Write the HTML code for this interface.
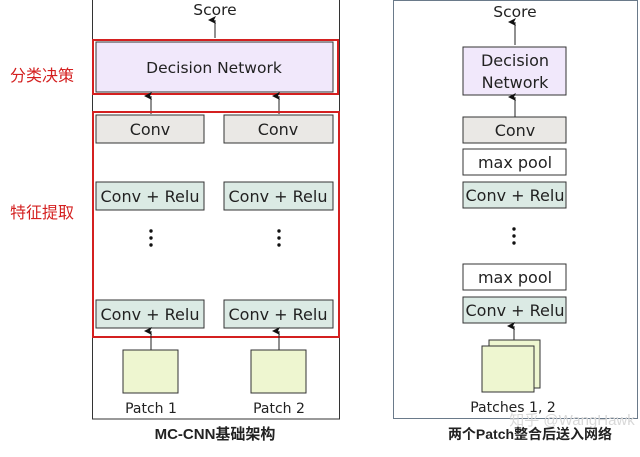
<!DOCTYPE html>
<html><head><meta charset="utf-8"><style>
body{margin:0;background:#fff;width:640px;height:452px;overflow:hidden}
svg text{font-family:"DejaVu Sans","Liberation Sans",sans-serif;fill:#222}
.cn{font-family:"Liberation Sans","Noto Sans CJK SC",sans-serif}
</style></head><body>
<svg width="640" height="452" viewBox="0 0 640 452">
<defs><marker id="a" markerWidth="8" markerHeight="8" refX="4" refY="7" orient="auto-start-reverse" markerUnits="userSpaceOnUse"><path d="M0,8 L4,0 L8,8 L4,6z" fill="#111"/></marker></defs>
<!-- left -->
<rect x="92.5" y="-1" width="247" height="420" fill="#fff" stroke="#333"/>
<text x="215" y="15" font-size="15.5" text-anchor="middle">Score</text>
<line x1="215" y1="38" x2="215" y2="20" stroke="#222" marker-end="url(#a)"/>
<rect x="96" y="42" width="237" height="50" fill="#f1e8fb" stroke="#333"/>
<rect x="93" y="40" width="245" height="54" fill="none" stroke="#d42020" stroke-width="2"/>
<text x="214" y="73" font-size="15.5" text-anchor="middle">Decision Network</text>
<line x1="151" y1="114" x2="151" y2="96" stroke="#222" marker-end="url(#a)"/>
<line x1="279" y1="114" x2="279" y2="96" stroke="#222" marker-end="url(#a)"/>
<rect x="93" y="112" width="246" height="225" fill="none" stroke="#d42020" stroke-width="2"/>
<g font-size="16" text-anchor="middle">
<rect x="96" y="115" width="108" height="28" fill="#eae8e5" stroke="#333"/><text x="150" y="135">Conv</text>
<rect x="224" y="115" width="109" height="28" fill="#eae8e5" stroke="#333"/><text x="278" y="135">Conv</text>
<rect x="96" y="182" width="108" height="28" fill="#dbeae4" stroke="#333"/><text x="150" y="202">Conv + Relu</text>
<rect x="224" y="182" width="109" height="28" fill="#dbeae4" stroke="#333"/><text x="278" y="202">Conv + Relu</text>
<rect x="96" y="300" width="108" height="28" fill="#dbeae4" stroke="#333"/><text x="150" y="320">Conv + Relu</text>
<rect x="224" y="300" width="109" height="28" fill="#dbeae4" stroke="#333"/><text x="278" y="320">Conv + Relu</text>
</g>
<g fill="#111"><circle cx="151" cy="231" r="1.7"/><circle cx="151" cy="238" r="1.7"/><circle cx="151" cy="245" r="1.7"/>
<circle cx="279" cy="231" r="1.7"/><circle cx="279" cy="238" r="1.7"/><circle cx="279" cy="245" r="1.7"/></g>
<line x1="151" y1="350" x2="151" y2="331" stroke="#222" marker-end="url(#a)"/>
<line x1="279" y1="350" x2="279" y2="331" stroke="#222" marker-end="url(#a)"/>
<rect x="123" y="350" width="55" height="43" fill="#eef6d0" stroke="#333"/>
<rect x="251" y="350" width="55" height="43" fill="#eef6d0" stroke="#333"/>
<text x="151" y="413" font-size="14" text-anchor="middle">Patch 1</text>
<text x="279" y="413" font-size="14" text-anchor="middle">Patch 2</text>
<text class="cn" x="215" y="439" font-size="15" text-anchor="middle" font-weight="bold">MC-CNN基础架构</text>
<text class="cn" x="10" y="81" font-size="16" style="fill:#d42020">分类决策</text>
<text class="cn" x="10" y="218" font-size="16" style="fill:#d42020">特征提取</text>
<!-- right -->
<rect x="393.5" y="0.5" width="244" height="418" fill="#fff" stroke="#6a7a8a"/>
<text x="515" y="17" font-size="15.5" text-anchor="middle">Score</text>
<line x1="515" y1="45" x2="515" y2="22" stroke="#222" marker-end="url(#a)"/>
<g font-size="16" text-anchor="middle">
<rect x="463" y="47" width="103" height="48" fill="#f1e8fb" stroke="#333"/><text x="515" y="66">Decision</text><text x="515" y="88">Network</text>
<rect x="463" y="117" width="103" height="26" fill="#eae8e5" stroke="#333"/><text x="515" y="136">Conv</text>
<rect x="463" y="149" width="103" height="26" fill="#fff" stroke="#333"/><text x="515" y="168">max pool</text>
<rect x="463" y="182" width="103" height="26" fill="#dbeae4" stroke="#333"/><text x="515" y="201">Conv + Relu</text>
<rect x="463" y="264" width="103" height="26" fill="#fff" stroke="#333"/><text x="515" y="283">max pool</text>
<rect x="463" y="297" width="103" height="26" fill="#dbeae4" stroke="#333"/><text x="515" y="316">Conv + Relu</text>
</g>
<line x1="515" y1="117" x2="515" y2="97" stroke="#222" marker-end="url(#a)"/>
<g fill="#111"><circle cx="514" cy="229" r="1.7"/><circle cx="514" cy="236" r="1.7"/><circle cx="514" cy="243" r="1.7"/></g>
<line x1="514" y1="340" x2="514" y2="326" stroke="#222" marker-end="url(#a)"/>
<rect x="489" y="340" width="51" height="48" fill="#eef6d0" stroke="#333"/>
<rect x="482" y="346" width="52" height="46" fill="#eef6d0" stroke="#333"/>
<text x="513" y="412" font-size="14" text-anchor="middle">Patches 1, 2</text>
<text class="cn" x="530" y="439" font-size="14" text-anchor="middle" font-weight="bold">两个Patch整合后送入网络</text>
<text class="cn" x="572" y="425" font-size="15" text-anchor="middle" style="fill:#d8d8d8">知乎 @WangHawk</text>
</svg>
</body></html>
